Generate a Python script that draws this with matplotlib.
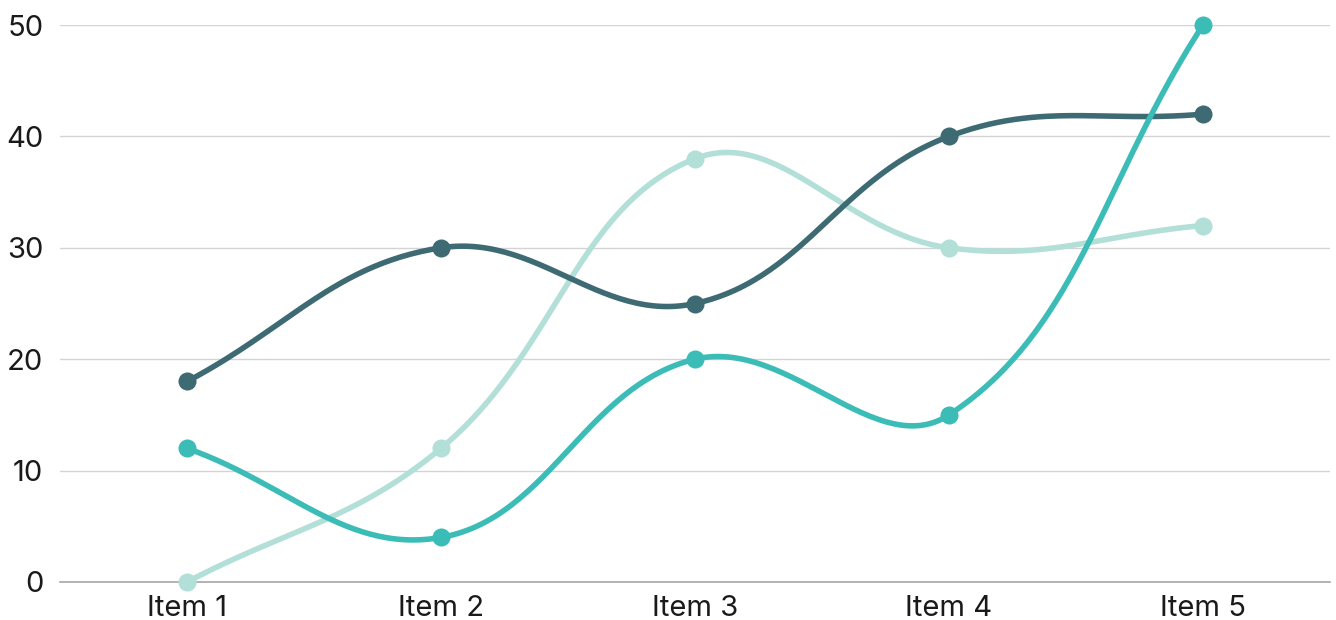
import numpy as np
import matplotlib
matplotlib.use("Agg")
import matplotlib.pyplot as plt

categories = ["Item 1", "Item 2", "Item 3", "Item 4", "Item 5"]
series_dark = [18, 30, 25, 40, 42]
series_teal = [12, 4, 20, 15, 50]
series_light = [0, 12, 38, 30, 32]
y_ticks = [0, 10, 20, 30, 40, 50]

colors = {"dark": "#3e6b73", "teal": "#3bbcb7", "light": "#b2dfd8"}

plt.rcParams["font.family"] = ["Inter", "DejaVu Sans"]

W, H = 1336, 620
fig = plt.figure(figsize=(W / 100, H / 100), dpi=100)
ax = fig.add_axes([60 / W, 38 / H, 1270 / W, 557 / H])
ax.set_xlim(0.5, len(categories) + 0.5)
ax.set_ylim(0, 50)

x = np.arange(1, len(categories) + 1)


def smooth_curve(xs, ys, tension=0.4, n=60):
    """Cubic bezier through points with spline control points computed in pixel space."""
    pts = ax.transData.transform(np.column_stack([xs, ys]))
    m = len(pts)
    cp_prev = np.zeros_like(pts)
    cp_next = np.zeros_like(pts)
    for i in range(m):
        prev = pts[i - 1] if i > 0 else pts[i]
        cur = pts[i]
        nxt = pts[i + 1] if i < m - 1 else pts[i]
        d01 = np.hypot(*(cur - prev))
        d12 = np.hypot(*(nxt - cur))
        tot = d01 + d12
        fa = tension * d01 / tot if tot else 0
        fb = tension * d12 / tot if tot else 0
        cp_prev[i] = cur - fa * (nxt - prev)
        cp_next[i] = cur + fb * (nxt - prev)
    t = np.linspace(0, 1, n)[:, None]
    out = []
    for i in range(m - 1):
        p0, p1, p2, p3 = pts[i], cp_next[i], cp_prev[i + 1], pts[i + 1]
        seg = ((1 - t) ** 3) * p0 + 3 * ((1 - t) ** 2) * t * p1 + 3 * (1 - t) * t ** 2 * p2 + t ** 3 * p3
        out.append(seg if i == 0 else seg[1:])
    out = np.vstack(out)
    return ax.transData.inverted().transform(out)


for key, vals in [("light", series_light), ("dark", series_dark), ("teal", series_teal)]:
    curve = smooth_curve(x, vals)
    ax.plot(curve[:, 0], curve[:, 1], color=colors[key], lw=4.0,
            solid_capstyle="round", clip_on=False, zorder=3)
    ax.plot(x, vals, "o", color=colors[key], ms=13, mec="none", clip_on=False, zorder=4)

ax.set_yticks(y_ticks)
ax.set_xticks(x)
ax.set_xticklabels(categories)
ax.grid(axis="y", color="#d3d3d3", lw=1)
ax.set_axisbelow(True)
for s in ["top", "right", "left"]:
    ax.spines[s].set_visible(False)
ax.spines["bottom"].set_color("#a6a6a6")
ax.spines["bottom"].set_linewidth(1.2)
ax.tick_params(axis="both", length=0, labelsize=21, colors="#1a1a1a")
ax.tick_params(axis="y", pad=12)
ax.tick_params(axis="x", pad=9)

fig.savefig("out.png", dpi=100)
